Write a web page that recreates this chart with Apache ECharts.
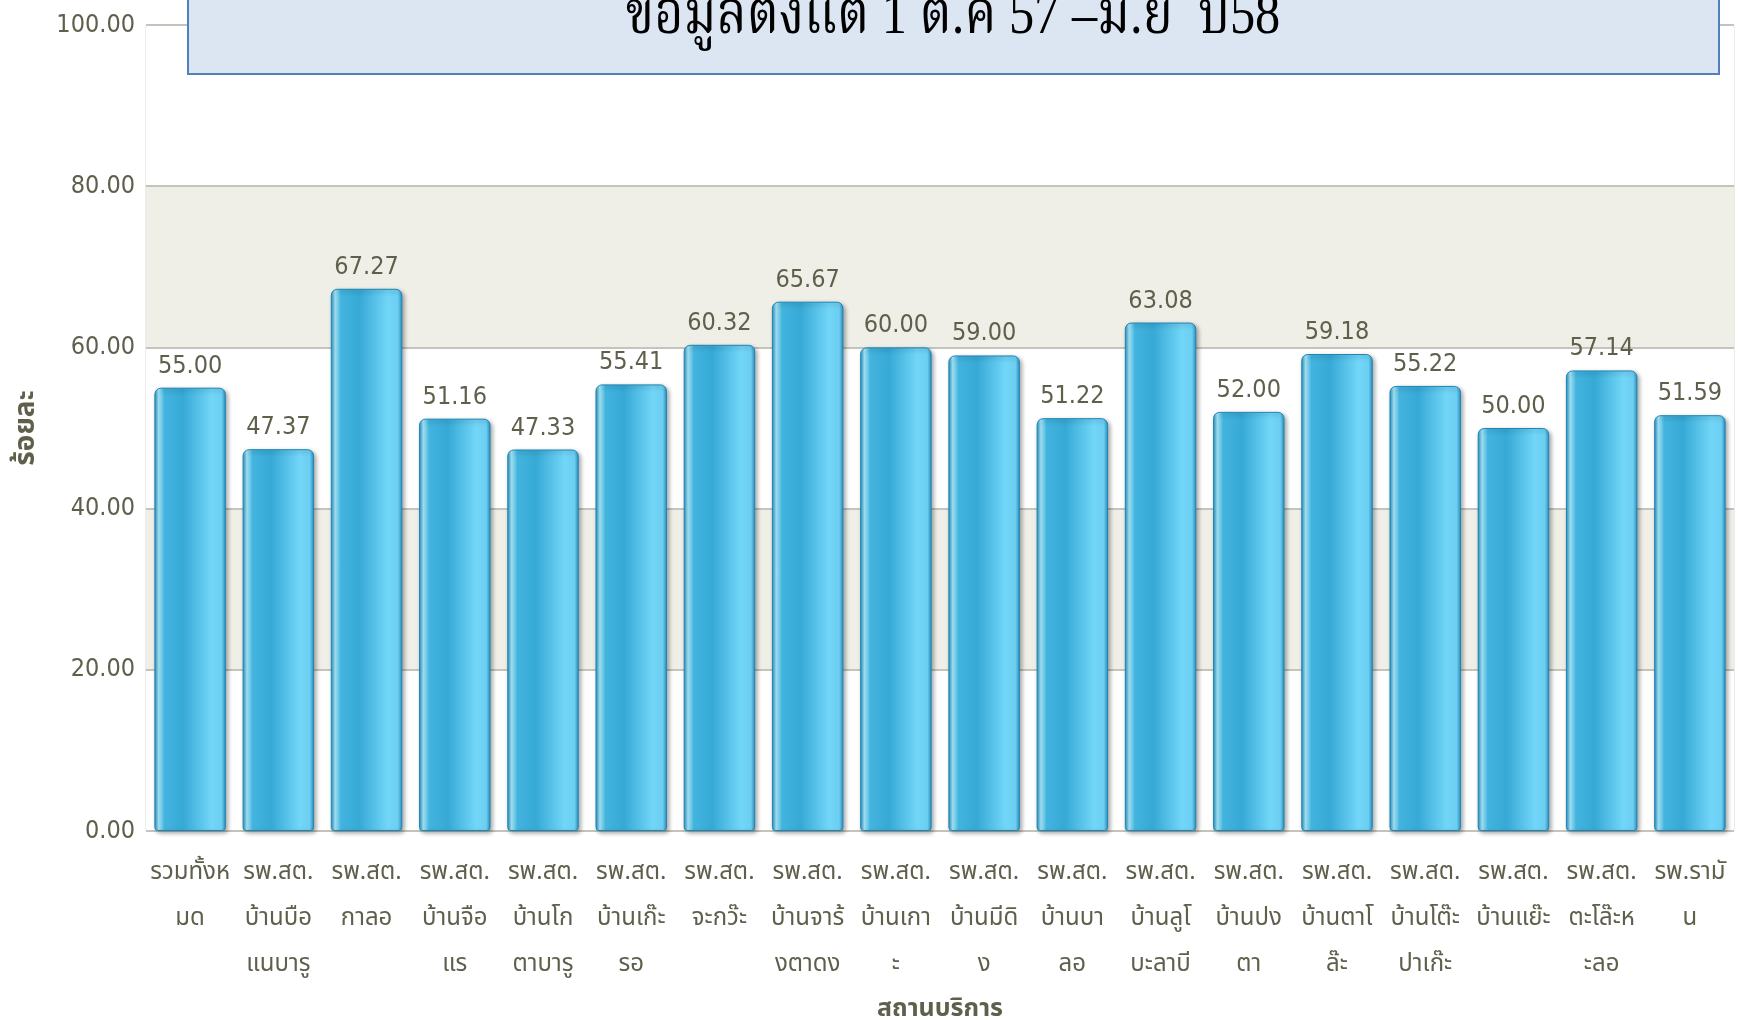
<!DOCTYPE html>
<html>
<head>
<meta charset="utf-8">
<script src="https://cdn.jsdelivr.net/npm/echarts@6/dist/echarts.min.js"></script>
<style>
html,body{margin:0;padding:0;background:#fff;}
#chart{width:1738px;height:1020px;}
</style>
</head>
<body>
<div id="chart"></div>
<script>
const categories = [
  'รวมทั้งห\nมด',
  'รพ.สต.\nบ้านบือ\nแนบารู',
  'รพ.สต.\nกาลอ',
  'รพ.สต.\nบ้านจือ\nแร',
  'รพ.สต.\nบ้านโก\nตาบารู',
  'รพ.สต.\nบ้านเก๊ะ\nรอ',
  'รพ.สต.\nจะกว๊ะ',
  'รพ.สต.\nบ้านจาร้\nงตาดง',
  'รพ.สต.\nบ้านเกา\nะ',
  'รพ.สต.\nบ้านมีดิ\nง',
  'รพ.สต.\nบ้านบา\nลอ',
  'รพ.สต.\nบ้านลูโ\nบะลาบี',
  'รพ.สต.\nบ้านปง\nตา',
  'รพ.สต.\nบ้านตาโ\nล๊ะ',
  'รพ.สต.\nบ้านโต๊ะ\nปาเก๊ะ',
  'รพ.สต.\nบ้านแย๊ะ',
  'รพ.สต.\nตะโล๊ะห\nะลอ',
  'รพ.รามั\nน'
];
const percentValues = [55.00, 47.37, 67.27, 51.16, 47.33, 55.41, 60.32, 65.67, 60.00, 59.00, 51.22, 63.08, 52.00, 59.18, 55.22, 50.00, 57.14, 51.59];
const yTicks = { min: 0, max: 100, interval: 20 };
const titleText = 'ข้อมูลตั้งแต่ 1 ต.ค 57 –มิ.ย  ปี58';
const xAxisName = 'สถานบริการ';
const yAxisName = 'ร้อยละ';

const narrow = '"Liberation Sans Narrow", "DejaVu Sans Condensed", "Noto Sans Thai", sans-serif';
const thai = '"Liberation Sans Narrow", "Noto Sans Thai", "Noto Sans", sans-serif';
const txtColor = '#5f5f4c';

const chart = echarts.init(document.getElementById('chart'), null, {renderer: 'canvas'});
chart.setOption({
  animation: false,
  backgroundColor: '#ffffff',
  grid: { left: 146, right: 4, top: 25, bottom: 189, outerBoundsMode: 'none', containLabel: false,
          show: true, borderColor: '#d8d8d8', borderWidth: 1 },
  graphic: [
    {
      type: 'rect', z: 100,
      shape: { x: 188, y: -40, width: 1531, height: 114 },
      style: { fill: '#dce6f2', stroke: '#4f81bd', lineWidth: 2 }
    },
    {
      type: 'group', z: 101, x: 953, y: 17, scaleX: 0.84, scaleY: 1,
      children: [{
        type: 'text', z: 101,
        style: { text: titleText, font: '60px "Liberation Serif", "Noto Serif Thai", serif', fill: '#000',
                 x: 0, y: 0, align: 'center', verticalAlign: 'middle' }
      }]
    }
  ],
  xAxis: {
    type: 'category',
    data: categories,
    name: xAxisName,
    nameLocation: 'middle',
    nameGap: 167,
    nameTextStyle: { fontFamily: thai, fontSize: 25, fontWeight: 'bold', color: txtColor },
    axisLine: { show: false },
    axisTick: { show: false },
    axisLabel: { interval: 0, margin: 20, fontFamily: thai, fontSize: 24, lineHeight: 46, color: txtColor }
  },
  yAxis: {
    type: 'value',
    min: yTicks.min, max: yTicks.max, interval: yTicks.interval,
    name: yAxisName,
    nameLocation: 'middle',
    nameGap: 104,
    nameRotate: 90,
    nameTextStyle: { fontFamily: thai, fontSize: 28, fontWeight: 'bold', color: txtColor },
    axisLine: { show: false },
    axisTick: { show: false },
    axisLabel: { margin: 11, fontFamily: narrow, fontSize: 25, color: txtColor, formatter: v => v.toFixed(2) },
    splitLine: { lineStyle: { color: '#c4c4bc', width: 2 } },
    splitArea: { show: true, areaStyle: { color: ['#ffffff', '#efefe8'] } }
  },
  series: [{
    type: 'bar',
    data: percentValues,
    barCategoryGap: '19%',
    itemStyle: {
      borderRadius: [6, 6, 3, 3],
      borderColor: '#1d86b6',
      borderWidth: 1,
      shadowColor: 'rgba(0,0,0,0.35)',
      shadowBlur: 4,
      shadowOffsetX: 2,
      shadowOffsetY: 2,
      color: new echarts.graphic.LinearGradient(0, 0, 1, 0, [
        { offset: 0, color: '#1f8cbf' },
        { offset: 0.06, color: '#a6e6f8' },
        { offset: 0.14, color: '#43b4de' },
        { offset: 0.4, color: '#36a9d6' },
        { offset: 0.8, color: '#72d6f8' },
        { offset: 0.94, color: '#6ccff2' },
        { offset: 1, color: '#2a8fbd' }
      ])
    },
    label: {
      show: true, position: 'top', distance: 9,
      fontFamily: narrow, fontSize: 25, color: txtColor,
      formatter: p => p.value.toFixed(2)
    }
  }]
});
</script>
</body>
</html>
